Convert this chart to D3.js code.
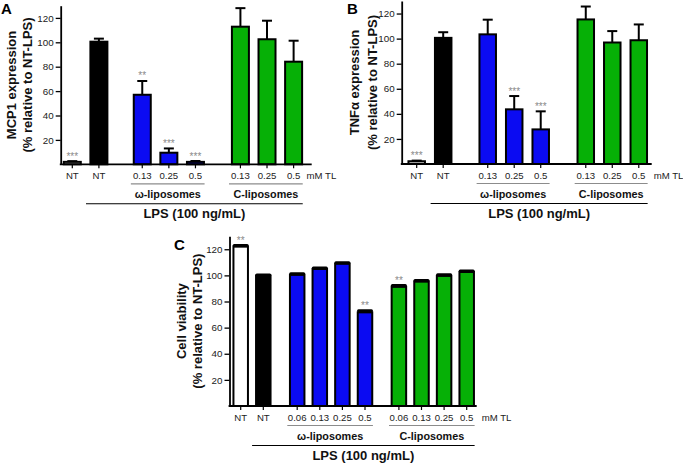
<!DOCTYPE html>
<html>
<head>
<meta charset="utf-8">
<script src="https://cdn.jsdelivr.net/npm/d3@7/dist/d3.min.js"></script>
<style>
  html, body { margin: 0; padding: 0; background: #fff; }
  svg { display: block; font-family: "Liberation Sans", Arial, sans-serif; }
</style>
</head>
<body>
<svg id="chart" width="683" height="464"></svg>
<script>
// ---------------- data ----------------
const ntLabels = ["NT", "NT"];
const doseAB = ["0.13", "0.25", "0.5"];
const doseC = ["0.06", "0.13", "0.25", "0.5"];
const yTicks = [20, 40, 60, 80, 100, 120];
const groupNames = ["ω-liposomes", "C-liposomes"];
const lpsLabel = "LPS (100 ng/mL)";
const unitLabel = "mM TL";

// Panel A: MCP1 expression
const mcp1NT = [2, 100.5];
const mcp1NTErr = [0.6, 2.5];
const mcp1NTSig = ["***", ""];
const mcp1Omega = [57, 9.5, 2];
const mcp1OmegaErr = [11.3, 3.5, 0.7];
const mcp1OmegaSig = ["**", "***", "***"];
const mcp1Lipo = [112.8, 102.5, 84.1];
const mcp1LipoErr = [15.2, 15.2, 17.2];
const mcp1LipoSig = ["", "", ""];

// Panel B: TNFα expression
const tnfNT = [2.2, 100.6];
const tnfNTErr = [0.5, 4.5];
const tnfNTSig = ["***", ""];
const tnfOmega = [103.4, 43.6, 27.6];
const tnfOmegaErr = [11.7, 10.6, 14.4];
const tnfOmegaSig = ["", "***", "***"];
const tnfLipo = [115.3, 96.9, 98.7];
const tnfLipoErr = [10.3, 9.1, 12.6];
const tnfLipoSig = ["", "", ""];

// Panel C: cell viability
const viaNT = [122, 99.8];
const viaNTErr = [0.8, 0.5];
const viaNTSig = ["**", ""];
const viaOmega = [100.4, 104.9, 108.9, 71.7];
const viaOmegaErr = [0.8, 0.8, 0.8, 1.2];
const viaOmegaSig = ["", "", "", "**"];
const viaLipo = [91.2, 95.2, 99.6, 102.6];
const viaLipoErr = [1.0, 0.9, 0.8, 0.8];
const viaLipoSig = ["**", "", "", ""];

const ntFillsAB = ["#cfcfcf", "#000000"];
const ntFillsC = ["#ffffff", "#000000"];
const omegaFill = "#0b0bf2";
const lipoFill = "#06b006";

// ---------------- drawing ----------------
const svg = d3.select("#chart");

function drawPanel(p) {
  const g = svg.append("g");
  // build bars list with slot indices
  const bars = [];
  let slot = 0;
  p.nt.forEach((v, i) => { bars.push({v, e: p.ntErr[i], s: p.ntSig[i], lab: ntLabels[i], fill: p.ntFills[i], slot, grp: -1}); slot += 1; });
  slot += p.gaps[0] - 1;
  p.omega.forEach((v, i) => { bars.push({v, e: p.omegaErr[i], s: p.omegaSig[i], lab: p.doses[i], fill: omegaFill, slot, grp: 0}); slot += 1; });
  slot += p.gaps[1] - 1;
  p.lipo.forEach((v, i) => { bars.push({v, e: p.lipoErr[i], s: p.lipoSig[i], lab: p.doses[i], fill: lipoFill, slot, grp: 1}); slot += 1; });

  const x = d3.scaleLinear().domain([0, 1]).range([p.slot0, p.slot0 + p.step]);
  const y = d3.scaleLinear().domain([0, 130]).range([p.y0, p.yTop]);
  const bw = p.bw;

  // bars
  g.selectAll("rect.bar").data(bars).enter().append("rect")
    .attr("x", d => x(d.slot) - bw / 2 + 1)
    .attr("y", d => y(d.v))
    .attr("width", bw - 2)
    .attr("height", d => y(0) - y(d.v))
    .attr("fill", d => d.fill)
    .attr("stroke", "#000")
    .attr("stroke-width", 2);

  // error bars (upper only)
  g.selectAll("line.err").data(bars).enter().append("line")
    .attr("x1", d => x(d.slot)).attr("x2", d => x(d.slot))
    .attr("y1", d => y(d.v)).attr("y2", d => y(d.v + d.e))
    .attr("stroke", "#000").attr("stroke-width", 2);
  g.selectAll("line.cap").data(bars).enter().append("line")
    .attr("x1", d => x(d.slot) - p.cap / 2).attr("x2", d => x(d.slot) + p.cap / 2)
    .attr("y1", d => y(d.v + d.e)).attr("y2", d => y(d.v + d.e))
    .attr("stroke", "#000").attr("stroke-width", p.capW).attr("stroke-linecap", p.capRound ? "round" : "butt");

  // significance
  g.selectAll("text.sig").data(bars.filter(d => d.s)).enter().append("text")
    .attr("x", d => x(d.slot)).attr("y", d => y(d.v + d.e) - 1.5)
    .attr("text-anchor", "middle").attr("font-size", 10).attr("fill", "#8a8a8a")
    .text(d => d.s);

  // y axis
  const yAxis = d3.axisLeft(y).tickValues(yTicks).tickSize(5).tickSizeOuter(0).tickPadding(2);
  const ya = g.append("g").attr("transform", `translate(${p.axisX},0)`).call(yAxis);
  ya.select(".domain").attr("stroke", "#000").attr("stroke-width", 1.8);
  ya.selectAll(".tick line").attr("stroke", "#000").attr("stroke-width", 1.3);
  ya.selectAll(".tick text").attr("font-size", 9.8).attr("fill", "#222")
    .attr("font-family", '"Liberation Sans", Arial, sans-serif');

  // x axis line and ticks
  g.append("line").attr("x1", p.axisX - 0.9).attr("x2", p.xEnd).attr("y1", y(0)).attr("y2", y(0))
    .attr("stroke", "#000").attr("stroke-width", 1.8);
  g.selectAll("line.xt").data(bars).enter().append("line")
    .attr("x1", d => x(d.slot)).attr("x2", d => x(d.slot))
    .attr("y1", y(0)).attr("y2", y(0) + 4)
    .attr("stroke", "#000").attr("stroke-width", 1.2);
  g.selectAll("text.xl").data(bars).enter().append("text")
    .attr("x", d => x(d.slot)).attr("y", y(0) + 14.5)
    .attr("text-anchor", "middle").attr("font-size", 9.6).attr("fill", "#222")
    .text(d => d.lab);
  const last = bars[bars.length - 1];
  g.append("text").attr("x", x(last.slot) + p.unitOff).attr("y", y(0) + 14.5)
    .attr("font-size", 9.6).attr("fill", "#222").text(unitLabel);

  // group lines
  let lpsEnd = 0;
  [0, 1].forEach(gi => {
    const gb = bars.filter(d => d.grp === gi);
    const x1 = x(gb[0].slot) - bw * 0.6;
    const x2 = x(gb[gb.length - 1].slot) + bw * 0.48;
    lpsEnd = x2;
    g.append("line").attr("x1", x1).attr("x2", x2).attr("y1", y(0) + 19.5).attr("y2", y(0) + 19.5)
      .attr("stroke", "#8c8c8c").attr("stroke-width", 1.2);
    g.append("text").attr("x", (x1 + x2) / 2).attr("y", y(0) + 33.5)
      .attr("text-anchor", "middle").attr("font-size", 10.8).attr("font-weight", "bold").attr("fill", "#111")
      .text(groupNames[gi]);
  });
  const lpsStart = x(bars[1].slot) - bw * 0.68;
  g.append("line").attr("x1", lpsStart).attr("x2", lpsEnd).attr("y1", y(0) + 39.5).attr("y2", y(0) + 39.5)
    .attr("stroke", "#000").attr("stroke-width", 1.1);
  g.append("text").attr("x", (lpsStart + lpsEnd) / 2).attr("y", y(0) + 54)
    .attr("text-anchor", "middle").attr("font-size", 13).attr("font-weight", "bold").attr("fill", "#111")
    .text(lpsLabel);

  // y title (two lines)
  const yc = (y(0) + y(130)) / 2;
  g.append("text").attr("transform", `translate(${p.t1x},${yc}) rotate(-90)`)
    .attr("text-anchor", "middle").attr("font-size", 13).attr("font-weight", "bold").attr("fill", "#111")
    .text(p.title1);
  g.append("text").attr("transform", `translate(${p.t2x},${yc}) rotate(-90)`)
    .attr("text-anchor", "middle").attr("font-size", 13).attr("font-weight", "bold").attr("fill", "#111")
    .text("(% relative to NT-LPS)");

  // panel letter
  g.append("text").attr("x", p.letterX).attr("y", p.letterY)
    .attr("font-size", 15).attr("font-weight", "bold").attr("fill", "#000").text(p.letter);
}

drawPanel({
  letter: "A", letterX: 1, letterY: 14,
  title1: "MCP1 expression", t1x: 15.5, t2x: 31.5,
  nt: mcp1NT, ntErr: mcp1NTErr, ntSig: mcp1NTSig, ntFills: ntFillsAB,
  omega: mcp1Omega, omegaErr: mcp1OmegaErr, omegaSig: mcp1OmegaSig,
  lipo: mcp1Lipo, lipoErr: mcp1LipoErr, lipoSig: mcp1LipoSig,
  doses: doseAB,
  axisX: 60.7, xEnd: 311.7, y0: 164.3, yTop: 5.7,
  slot0: 72.3, step: 26.6, gaps: [1.63, 1.69], bw: 19,
  cap: 10, capW: 2, capRound: false, unitOff: 13
});
drawPanel({
  letter: "B", letterX: 347, letterY: 14,
  title1: "TNFα expression", t1x: 359, t2x: 377,
  nt: tnfNT, ntErr: tnfNTErr, ntSig: tnfNTSig, ntFills: ntFillsAB,
  omega: tnfOmega, omegaErr: tnfOmegaErr, omegaSig: tnfOmegaSig,
  lipo: tnfLipo, lipoErr: tnfLipoErr, lipoSig: tnfLipoSig,
  doses: doseAB,
  axisX: 401.7, xEnd: 651.7, y0: 164, yTop: 1,
  slot0: 416.7, step: 26.5, gaps: [1.68, 1.7], bw: 18.5,
  cap: 10, capW: 2, capRound: false, unitOff: 15
});
drawPanel({
  letter: "C", letterX: 174, letterY: 250,
  title1: "Cell viability", t1x: 186, t2x: 201.5,
  nt: viaNT, ntErr: viaNTErr, ntSig: viaNTSig, ntFills: ntFillsC,
  omega: viaOmega, omegaErr: viaOmegaErr, omegaSig: viaOmegaSig,
  lipo: viaLipo, lipoErr: viaLipoErr, lipoSig: viaLipoSig,
  doses: doseC,
  axisX: 229.5, xEnd: 476.7, y0: 406, yTop: 236.2,
  slot0: 240.7, step: 22.6, gaps: [1.5, 1.5], bw: 16.5,
  cap: 13, capW: 3, capRound: true, unitOff: 15
});
</script>
</body>
</html>
